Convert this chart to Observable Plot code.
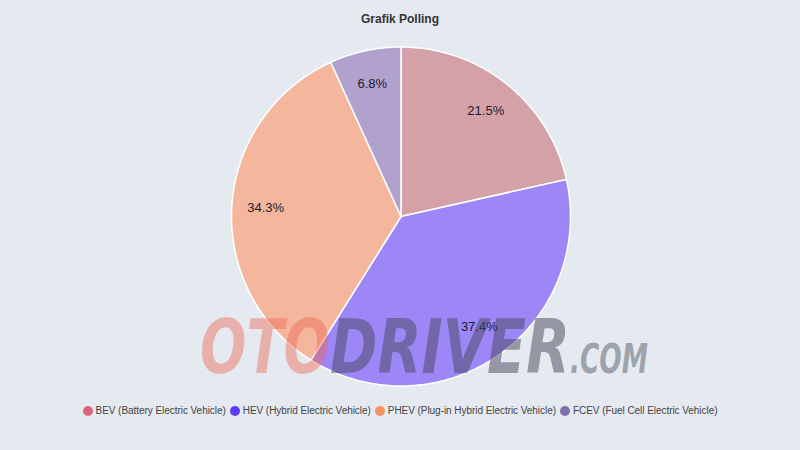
<!DOCTYPE html>
<html>
<head>
<meta charset="utf-8">
<script src="https://cdn.jsdelivr.net/npm/d3@7"></script>
<script src="https://cdn.jsdelivr.net/npm/@observablehq/plot@0.6"></script>
<style>
  html, body { margin: 0; padding: 0; background: #e5e9f0; }
  #wrap { position: relative; width: 800px; height: 450px; overflow: hidden; font-family: "Liberation Sans", Arial, sans-serif; }
  #title { height: 38px; line-height: 38px; text-align: center; font-weight: bold; font-size: 12px; color: #333; }
  #chart svg { display: block; }
  #legend { position: absolute; left: 0; top: 405px; width: 800px; display: flex; justify-content: center; gap: 4px; font-size: 10px; line-height: 12px; color: #444; letter-spacing: -0.05px; }
  #legend .item { display: flex; align-items: center; gap: 3px; }
  #legend .dot { width: 10px; height: 10px; border-radius: 50%; display: inline-block; }
  #wm { position: absolute; left: 0; top: 0; pointer-events: none; }
</style>
</head>
<body>
<div id="wrap">
  <div id="title">Grafik Polling</div>
  <div id="chart"></div>
  <div id="legend"></div>
  <svg id="wm" width="800" height="450"></svg>
</div>
<script>
const categories = ["BEV (Battery Electric Vehicle)", "HEV (Hybrid Electric Vehicle)", "PHEV (Plug-in Hybrid Electric Vehicle)", "FCEV (Fuel Cell Electric Vehicle)"];
const values = [21.5, 37.4, 34.3, 6.8];
const sliceColors = ["#d4a1a8", "#9d86f5", "#f4b79d", "#b0a1cd"];
const legendColors = ["#d9657d", "#5b3df0", "#f2925c", "#8070aa"];

const total = d3.sum(values);
const pie = d3.pie().sort(null).value(d => d)(values);

const marks = [];
pie.forEach((p, i) => {
  const pts = [[0, 0]];
  const steps = Math.max(2, Math.ceil((p.endAngle - p.startAngle) / (Math.PI / 180)));
  for (let k = 0; k <= steps; k++) {
    const a = p.startAngle + (p.endAngle - p.startAngle) * k / steps;
    pts.push([Math.sin(a), Math.cos(a)]);
  }
  pts.push([0, 0]);
  marks.push(Plot.line(pts, {x: d => d[0], y: d => d[1], fill: sliceColors[i], stroke: "#ffffff", strokeWidth: 1.5, strokeLinejoin: "round"}));
});
const labels = pie.map((p, i) => {
  const a = (p.startAngle + p.endAngle) / 2;
  return {x: 0.8 * Math.sin(a), y: 0.8 * Math.cos(a), t: (values[i] / total * 100).toFixed(1) + "%"};
});
marks.push(Plot.text(labels, {x: "x", y: "y", text: "t", fontSize: 13, fill: "#1a1a2e", fontFamily: "Liberation Sans, Arial, sans-serif"}));

const plot = Plot.plot({
  width: 800, height: 350, margin: 0,
  style: {background: "transparent"},
  x: {domain: [-1, 1], range: [231, 570], axis: null},
  y: {domain: [-1, 1], range: [347.5, 8.5], axis: null},
  marks
});
document.getElementById("chart").appendChild(plot);

const legend = document.getElementById("legend");
categories.forEach((c, i) => {
  const it = document.createElement("div");
  it.className = "item";
  it.innerHTML = `<span class="dot" style="background:${legendColors[i]}"></span><span>${c}</span>`;
  legend.appendChild(it);
});

// watermark
const wm = d3.select("#wm");
const wmFont = "DejaVu Sans Condensed, DejaVu Sans, sans-serif";
const wmParts = [
  {t: "OTO", x: 200, w: 130, size: 74, fill: "rgba(238,105,85,0.45)"},
  {t: "DRIVER", x: 330, w: 240, size: 74, fill: "rgba(70,70,90,0.5)"},
  {t: ".COM", x: 570, w: 78, size: 40, fill: "rgba(110,115,125,0.6)"}
];
wmParts.forEach(p => {
  wm.append("text")
    .attr("x", p.x).attr("y", 373)
    .attr("textLength", p.w).attr("lengthAdjust", "spacingAndGlyphs")
    .attr("font-family", wmFont).attr("font-weight", "bold").attr("font-style", "italic")
    .attr("font-size", p.size).attr("fill", p.fill)
    .text(p.t);
});
</script>
</body>
</html>
